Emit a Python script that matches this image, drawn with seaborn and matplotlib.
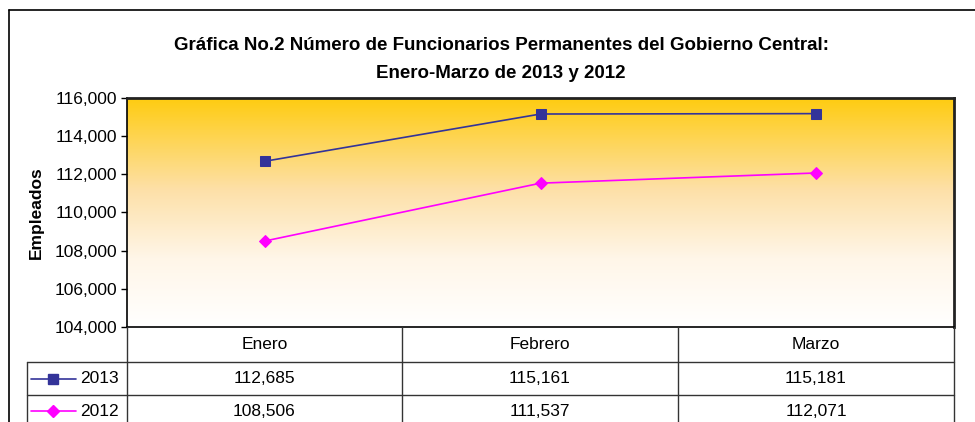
import numpy as np
import pandas as pd
import matplotlib.pyplot as plt
import seaborn as sns
from matplotlib.lines import Line2D

# Datos
meses = ['Enero', 'Febrero', 'Marzo']
anios = ['2013', '2012']
valores_2013 = [112685, 115161, 115181]
valores_2012 = [108506, 111537, 112071]
colores = {'2013': '#333399', '2012': '#FF00FF'}
marcadores = {'2013': 's', '2012': 'D'}
yticks = [104000, 106000, 108000, 110000, 112000, 114000, 116000]

df = pd.DataFrame({
    'mes': meses * 2,
    'pos': list(range(len(meses))) * 2,
    'anio': ['2013'] * 3 + ['2012'] * 3,
    'valor': valores_2013 + valores_2012,
})

sns.set_theme(style='white', rc={'text.color': 'black', 'axes.labelcolor': 'black',
                                 'ytick.color': 'black', 'xtick.color': 'black'})
plt.rcParams['font.family'] = ['Liberation Sans', 'DejaVu Sans']

W, H = 975, 422
fig = plt.figure(figsize=(W / 100, H / 100), dpi=100)

def fx(px):
    return px / W

def fy(py):
    return 1 - py / H

# Marco exterior
fig.add_artist(Line2D([fx(9), fx(9)], [fy(10), 0], color='black', lw=1.2, transform=fig.transFigure))
fig.add_artist(Line2D([fx(9), 1], [fy(10), fy(10)], color='black', lw=1.2, transform=fig.transFigure))

# Area del grafico
left, right, top, bottom = 127, 954, 98, 327
ax = fig.add_axes([fx(left), fy(bottom), fx(right - left), (bottom - top) / H])

# Degradado dorado -> blanco
t = np.linspace(0, 1, 256)
stops = [0, 0.4, 0.7, 1]
r = np.interp(t, stops, [255, 253, 255, 255])
g = np.interp(t, stops, [204, 224, 246, 255])
b = np.interp(t, stops, [17, 168, 232, 255])
grad = np.stack([r, g, b], axis=-1).reshape(-1, 1, 3) / 255
ax.imshow(grad, extent=[0, 1, 0, 1], transform=ax.transAxes, aspect='auto', zorder=0)

for anio in anios:
    sub = df[df['anio'] == anio]
    sns.lineplot(data=sub, x='pos', y='valor', ax=ax, color=colores[anio],
                 marker=marcadores[anio], markersize=7 if anio == '2013' else 6,
                 markeredgecolor=colores[anio], linewidth=1.2, legend=False, zorder=3)

ax.set_xlim(-0.5, len(meses) - 0.5)
ax.set_ylim(104000, 116000)
ax.set_yticks(yticks)
ax.set_yticklabels([f'{v:,}' for v in yticks], fontsize=12.5)
ax.set_xticks([])
ax.set_xlabel('')
ax.set_ylabel('Empleados', fontsize=12.5, fontweight='bold', labelpad=8)
ax.tick_params(axis='y', direction='out', length=4, width=1, left=True, pad=3, colors='black')
for s in ['left', 'bottom']:
    ax.spines[s].set_color('black')
    ax.spines[s].set_linewidth(1.2)
for s in ['top', 'right']:
    ax.spines[s].set_color('#222222')
    ax.spines[s].set_linewidth(2)

# Titulo
fig.text(fx(501), fy(45), 'Gráfica No.2 Número de Funcionarios Permanentes del Gobierno Central:',
         ha='center', va='center', fontsize=13.5, fontweight='bold')
fig.text(fx(501), fy(74), 'Enero-Marzo de 2013 y 2012',
         ha='center', va='center', fontsize=13.5, fontweight='bold')

# Tabla de datos
cols = [127, 402, 678, 954]
rows = [327, 362, 395, 430]
lc = '#333333'
for x in cols:
    fig.add_artist(Line2D([fx(x), fx(x)], [fy(rows[0]), fy(rows[-1])], color=lc, lw=1, transform=fig.transFigure))
fig.add_artist(Line2D([fx(27), fx(27)], [fy(rows[1]), fy(rows[-1])], color=lc, lw=1, transform=fig.transFigure))
for y in rows[1:3]:
    fig.add_artist(Line2D([fx(27), fx(954)], [fy(y), fy(y)], color=lc, lw=1, transform=fig.transFigure))

for i, mes in enumerate(meses):
    cx = (cols[i] + cols[i + 1]) / 2
    fig.text(fx(cx), fy((rows[0] + rows[1]) / 2), mes, ha='center', va='center', fontsize=12.5)

for k, (anio, vals) in enumerate(zip(anios, [valores_2013, valores_2012])):
    cy = (rows[1] + rows[2]) / 2 if k == 0 else (rows[2] + 427) / 2
    fig.add_artist(Line2D([fx(31), fx(76)], [fy(cy), fy(cy)], color=colores[anio], lw=1.2,
                          transform=fig.transFigure))
    fig.add_artist(Line2D([fx(53)], [fy(cy)], color=colores[anio], marker=marcadores[anio],
                          markersize=7 if anio == '2013' else 6, transform=fig.transFigure))
    fig.text(fx(80), fy(cy), anio, ha='left', va='center', fontsize=12.5)
    for i, v in enumerate(vals):
        cx = (cols[i] + cols[i + 1]) / 2
        fig.text(fx(cx), fy(cy), f'{v:,}', ha='center', va='center', fontsize=12.5)

fig.savefig('out.png', dpi=100)
